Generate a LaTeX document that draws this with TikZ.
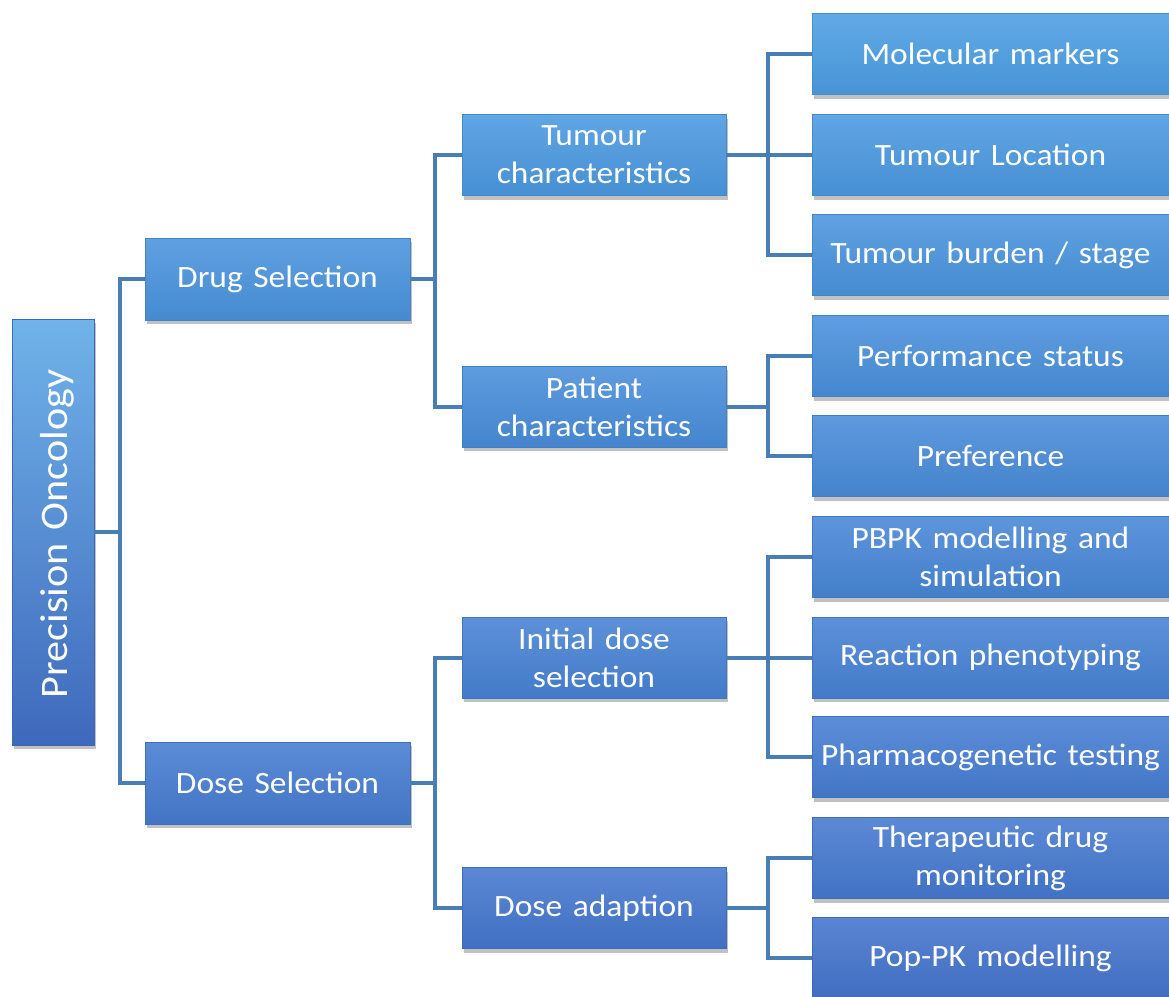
\documentclass[tikz,border=0pt]{standalone}
\usepackage{fontspec}
\setmainfont{Carlito}[WordSpace=1.4, FakeStretch=1.08]
\usetikzlibrary{shadows}
\definecolor{cT}{RGB}{76,160,228}
\definecolor{cB}{RGB}{68,114,204}
\definecolor{conn}{RGB}{72,126,180}
\tikzset{
  x=1pt, y=-1pt,
  bx/.style={rectangle, inner sep=0pt, text=white, align=center,
    font=\fontsize{31}{38}\selectfont,
    top color=#1!88!white, bottom color=#1!94!black,
    draw=#1!90!black, line width=0.6pt,
    drop shadow={shadow xshift=2pt, shadow yshift=-4pt, opacity=0.35, fill=black!70}},
  mid/.style={bx=#1, minimum width=265pt, minimum height=82pt},
  sub/.style={bx=#1, minimum width=264pt, minimum height=81pt},
  leaf/.style={bx=#1, minimum width=357pt, minimum height=81pt},
  connline/.style={draw=conn, line width=4pt}
}
\begin{document}
\begin{tikzpicture}
\useasboundingbox (0,0) rectangle (1169,996);
% root
\node[rectangle, inner sep=0pt, minimum width=82pt, minimum height=426pt,
  top color=cT!80!white, bottom color=cB!92!black, draw=cB!90!black, line width=0.6pt,
  drop shadow={shadow xshift=2pt, shadow yshift=-4pt, opacity=0.35, fill=black!70}]
  (root) at (53,532) {};
\node[text=white, font=\fontsize{39}{44}\selectfont, rotate=90] (roottext) at (57,534) {Precision Oncology};
% level 2
\node[mid={cT!72!cB}] (drug) at (277.5,279) {Drug Selection};
\node[mid={cT!22!cB}] (dose) at (277.5,783) {Dose Selection};
% level 3
\node[sub={cT!85!cB}] (tum) at (594,155) {Tumour\\characteristics};
\node[sub={cT!60!cB}] (pat) at (594,406.5) {Patient\\characteristics};
\node[sub={cT!35!cB}] (ini) at (594,657.5) {Initial dose\\selection};
\node[sub={cT!10!cB}] (ada) at (594,908) {Dose adaption};
% leaves
\node[leaf={cT!95!cB}] (mm) at (990.5,54) {Molecular markers};
\node[leaf={cT!85!cB}] (tl) at (990.5,155) {Tumour Location};
\node[leaf={cT!75!cB}] (tb) at (990.5,255) {Tumour burden / stage};
\node[leaf={cT!65!cB}] (ps) at (990.5,356) {Performance status};
\node[leaf={cT!55!cB}] (pr) at (990.5,456) {Preference};
\node[leaf={cT!45!cB}] (pb) at (990.5,557) {PBPK modelling and\\simulation};
\node[leaf={cT!35!cB}] (rp) at (990.5,657.5) {Reaction phenotyping};
\node[leaf={cT!25!cB}] (pg) at (990.5,757) {Pharmacogenetic testing};
\node[leaf={cT!15!cB}] (td) at (990.5,858) {Therapeutic drug\\monitoring};
\node[leaf={cT!5!cB}] (pp) at (990.5,958) {Pop-PK modelling};
% junctions
\coordinate (j1) at (120,532);
\coordinate (j2) at (435,279);
\coordinate (j3) at (435,783);
\coordinate (j4) at (768,155);
\coordinate (j5) at (768,406.5);
\coordinate (j6) at (768,657.5);
\coordinate (j7) at (768,908);
% connectors
\path[connline] (root.east) -- (j1) |- (drug.west);
\path[connline] (j1) |- (dose.west);
\path[connline] (drug.east) -- (j2) |- (tum.west);
\path[connline] (j2) |- (pat.west);
\path[connline] (dose.east) -- (j3) |- (ini.west);
\path[connline] (j3) |- (ada.west);
\path[connline] (tum.east) -- (j4) |- (mm.west);
\path[connline] (j4) -- (tl.west);
\path[connline] (j4) |- (tb.west);
\path[connline] (pat.east) -- (j5) |- (ps.west);
\path[connline] (j5) |- (pr.west);
\path[connline] (ini.east) -- (j6) |- (pb.west);
\path[connline] (j6) -- (rp.west);
\path[connline] (j6) |- (pg.west);
\path[connline] (ada.east) -- (j7) |- (td.west);
\path[connline] (j7) |- (pp.west);
\end{tikzpicture}
\end{document}
